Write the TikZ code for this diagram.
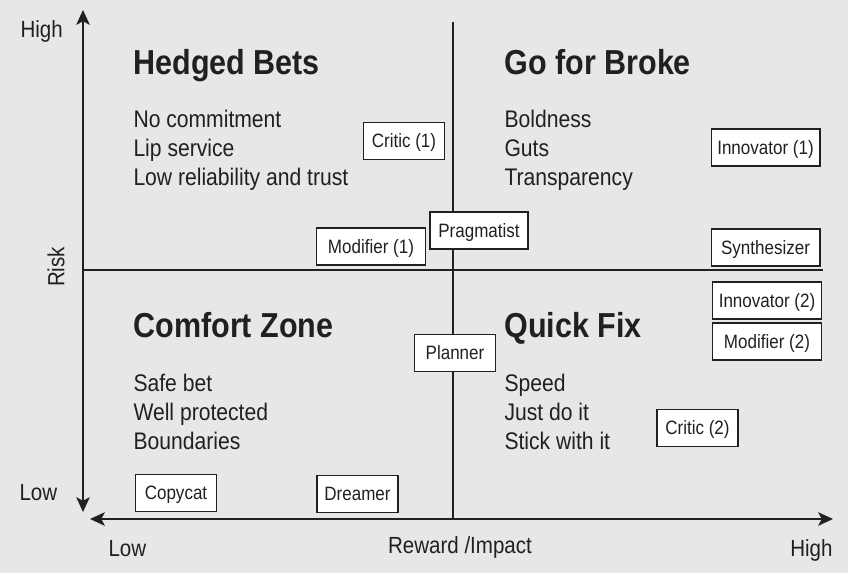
\documentclass[tikz,border=0pt]{standalone}
\usepackage{fontspec}
\setmainfont{Liberation Sans}[FakeStretch=0.88]
\usetikzlibrary{arrows.meta}
\definecolor{bggray}{RGB}{230,231,232}
\definecolor{inkdark}{RGB}{35,31,32}
\tikzset{every picture/.style={line width=0.75pt}}
\tikzset{
  axislabel/.style={font=\fontsize{17.5}{20}\selectfont, inner sep=0pt, text=inkdark},
  quadtitle/.style={font=\fontsize{26}{30}\selectfont\bfseries, inner sep=0pt, anchor=base west, text=inkdark},
  quadtext/.style={font=\fontsize{18}{21}\selectfont, inner sep=0pt, anchor=base west, text=inkdark},
  rolebox/.style={draw=inkdark, fill=white, line width=1pt, minimum width=60.75pt, minimum height=27.75pt, inner sep=0pt, text height=10.4pt, text depth=0pt, font=\fontsize{14.5}{17}\selectfont, text=inkdark},
  widebox/.style={rolebox, minimum width=81.5pt},
  axisline/.style={line width=1.5pt, draw=inkdark},
  axisarrow/.style={axisline, {Stealth[length=11pt,width=10pt,inset=2.5pt]}-{Stealth[length=11pt,width=10pt,inset=2.5pt]}},
}

\begin{document}
\begin{tikzpicture}[x=0.75pt,y=0.75pt,yscale=-1,xscale=1]
%Shape: Background
\fill [bggray] (0,0) rectangle (848,573);
\useasboundingbox (0,0) rectangle (848,573);

%Coordinates of the axes
\coordinate (riskHigh) at (83,10);
\coordinate (riskLow) at (83,512);
\coordinate (rewardLow) at (90,519);
\coordinate (rewardHigh) at (833,519);
\coordinate (splitTop) at (453,22);
\coordinate (splitBottom) at (453,519);
\coordinate (splitLeft) at (83,270);
\coordinate (splitRight) at (823,270);

%Straight Lines
\draw [axisline] (splitTop) -- (splitBottom) ;
%Straight Lines
\draw [axisline] (splitLeft) -- (splitRight) ;
%Straight Lines
\draw [axisarrow] (riskLow) -- (riskHigh) ;
%Straight Lines
\draw [axisarrow] (rewardLow) -- (rewardHigh) ;

% Text Node
\node [axislabel, anchor=base west] (riskHighLabel) at (20,38) {High};
% Text Node
\node [axislabel, anchor=base west] (riskLowLabel) at (19,500) {Low};
% Text Node
\node [axislabel, rotate=90] (riskLabel) at (56,267) {Risk};
% Text Node
\node [axislabel, anchor=base west] (rewardLowLabel) at (108,556) {Low};
% Text Node
\node [axislabel, anchor=base] (rewardLabel) at (460,553) {Reward /Impact};
% Text Node
\node [axislabel, anchor=base east] (rewardHighLabel) at (833,556) {High};

% Text Node
\node [quadtitle] (hedgedTitle) at (133,75) {Hedged Bets};
\node [quadtext] (hedged1) at (133,128) {No commitment};
\node [quadtext] (hedged2) at (133,157) {Lip service};
\node [quadtext] (hedged3) at (133,186) {Low reliability and trust};
% Text Node
\node [quadtitle] (brokeTitle) at (504,75) {Go for Broke};
\node [quadtext] (broke1) at (504,128) {Boldness};
\node [quadtext] (broke2) at (504,157) {Guts};
\node [quadtext] (broke3) at (504,186) {Transparency};
% Text Node
\node [quadtitle] (comfortTitle) at (133,337) {Comfort Zone};
\node [quadtext] (comfort1) at (133,391) {Safe bet};
\node [quadtext] (comfort2) at (133,420) {Well protected};
\node [quadtext] (comfort3) at (133,449) {Boundaries};
% Text Node
\node [quadtitle] (fixTitle) at (504,337) {Quick Fix};
\node [quadtext] (fix1) at (504,391) {Speed};
\node [quadtext] (fix2) at (504,420) {Just do it};
\node [quadtext] (fix3) at (504,449) {Stick with it};

%Shape: Rectangle
\node [rolebox] (critic1) at (404,141) {Critic (1)};
%Shape: Rectangle
\node [widebox] (modifier1) at (371,246.5) {Modifier (1)};
%Shape: Rectangle
\node [rolebox, minimum width=73.5pt] (pragmatist) at (479,230.5) {Pragmatist};
%Shape: Rectangle
\node [widebox] (innovator1) at (765.5,147.5) {Innovator (1)};
%Shape: Rectangle
\node [widebox] (synthesizer) at (765.5,247.5) {Synthesizer};
%Shape: Rectangle
\node [widebox] (innovator2) at (767,300.5) {Innovator (2)};
%Shape: Rectangle
\node [widebox] (modifier2) at (767,341.5) {Modifier (2)};
%Shape: Rectangle
\node [rolebox] (planner) at (455,353) {Planner};
%Shape: Rectangle
\node [rolebox] (critic2) at (697.5,428) {Critic (2)};
%Shape: Rectangle
\node [rolebox] (copycat) at (176,493) {Copycat};
%Shape: Rectangle
\node [rolebox] (dreamer) at (357.5,494) {Dreamer};

\end{tikzpicture}
\end{document}
